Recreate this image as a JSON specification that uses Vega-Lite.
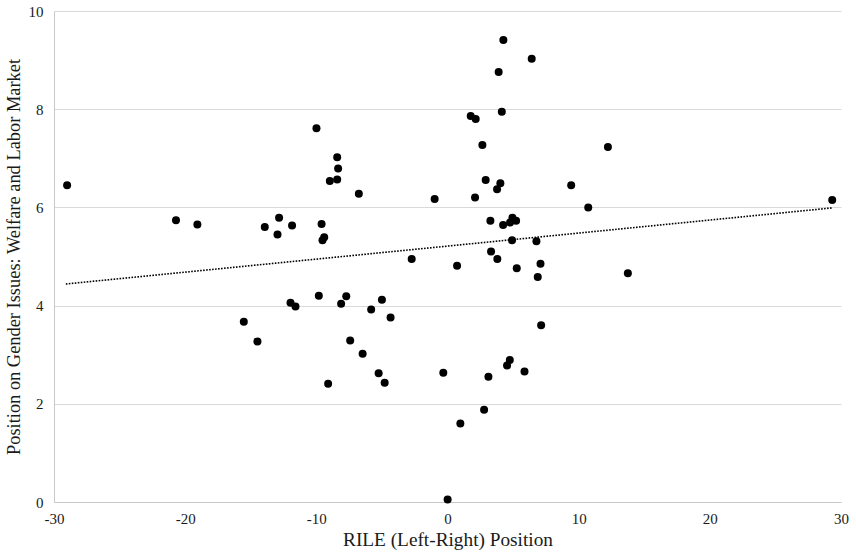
{
  "$schema": "https://vega.github.io/schema/vega-lite/v6.json",
  "autosize": {"type": "none"},
  "width": 787,
  "height": 491,
  "padding": {"left": 54, "top": 11, "right": 15, "bottom": 55},
  "background": "white",
  "config": {
    "view": {"stroke": null},
    "font": "Liberation Serif",
    "axis": {
      "titleFontWeight": "normal",
      "labelColor": "#1a1a1a",
      "titleColor": "#1a1a1a",
      "domainColor": "#c8c8c8",
      "gridColor": "#d9d9d9",
      "ticks": false,
      "labelFlush": false
    }
  },
  "datasets": {
    "parties": [
      {"rile": -29.0, "gender": 6.45},
      {"rile": -20.7, "gender": 5.74},
      {"rile": -19.07, "gender": 5.65},
      {"rile": -13.93, "gender": 5.60},
      {"rile": -12.84, "gender": 5.79},
      {"rile": -12.96, "gender": 5.45},
      {"rile": -11.85, "gender": 5.63},
      {"rile": -9.99, "gender": 7.61},
      {"rile": -8.41, "gender": 7.02},
      {"rile": -8.34, "gender": 6.79},
      {"rile": -8.97, "gender": 6.54},
      {"rile": -8.41, "gender": 6.57},
      {"rile": -6.76, "gender": 6.28},
      {"rile": -0.98, "gender": 6.17},
      {"rile": 2.10, "gender": 6.20},
      {"rile": 2.91, "gender": 6.56},
      {"rile": 2.66, "gender": 7.27},
      {"rile": 1.77, "gender": 7.86},
      {"rile": 2.15, "gender": 7.80},
      {"rile": 4.14, "gender": 7.95},
      {"rile": 3.90, "gender": 8.76},
      {"rile": 4.26, "gender": 9.41},
      {"rile": 6.42, "gender": 9.03},
      {"rile": 4.03, "gender": 6.49},
      {"rile": 3.78, "gender": 6.37},
      {"rile": 9.43, "gender": 6.45},
      {"rile": -9.60, "gender": 5.66},
      {"rile": -9.53, "gender": 5.33},
      {"rile": -9.40, "gender": 5.39},
      {"rile": -2.73, "gender": 4.95},
      {"rile": 0.73, "gender": 4.81},
      {"rile": 3.27, "gender": 5.73},
      {"rile": 4.24, "gender": 5.64},
      {"rile": 4.95, "gender": 5.79},
      {"rile": 4.77, "gender": 5.69},
      {"rile": 5.23, "gender": 5.73},
      {"rile": 4.92, "gender": 5.33},
      {"rile": 6.78, "gender": 5.31},
      {"rile": 3.32, "gender": 5.10},
      {"rile": 3.80, "gender": 4.95},
      {"rile": 5.28, "gender": 4.76},
      {"rile": 7.09, "gender": 4.85},
      {"rile": 6.88, "gender": 4.58},
      {"rile": 12.23, "gender": 7.23},
      {"rile": 10.73, "gender": 6.00},
      {"rile": 29.33, "gender": 6.15},
      {"rile": 13.75, "gender": 4.66},
      {"rile": -15.53, "gender": 3.67},
      {"rile": -14.49, "gender": 3.27},
      {"rile": -11.97, "gender": 4.06},
      {"rile": -11.59, "gender": 3.98},
      {"rile": -9.81, "gender": 4.20},
      {"rile": -8.11, "gender": 4.04},
      {"rile": -7.72, "gender": 4.19},
      {"rile": -5.82, "gender": 3.92},
      {"rile": -5.00, "gender": 4.12},
      {"rile": -4.34, "gender": 3.76},
      {"rile": -7.42, "gender": 3.29},
      {"rile": -6.47, "gender": 3.02},
      {"rile": -5.25, "gender": 2.62},
      {"rile": -4.79, "gender": 2.43},
      {"rile": -9.10, "gender": 2.41},
      {"rile": -0.32, "gender": 2.63},
      {"rile": 0.01, "gender": 0.05},
      {"rile": 0.98, "gender": 1.60},
      {"rile": 2.79, "gender": 1.88},
      {"rile": 3.12, "gender": 2.55},
      {"rile": 4.54, "gender": 2.78},
      {"rile": 4.75, "gender": 2.89},
      {"rile": 5.87, "gender": 2.66},
      {"rile": 7.14, "gender": 3.60}
    ],
    "trend": [
      {"rile": -29.1, "gender": 4.44},
      {"rile": 29.33, "gender": 5.99}
    ]
  },
  "encoding": {
    "x": {
      "field": "rile", "type": "quantitative",
      "scale": {"domain": [-30, 30], "nice": false, "zero": false},
      "axis": {"values": [-30, -20, -10, 0, 10, 20, 30], "grid": false, "title": "RILE (Left-Right) Position", "titleFont": "Liberation Serif", "titleFontSize": 19.3, "labelFont": "Liberation Serif", "labelFontSize": 15, "labelExpr": "'' + datum.value", "labelPadding": 9, "titlePadding": 4}
    },
    "y": {
      "field": "gender", "type": "quantitative",
      "scale": {"domain": [0, 10], "nice": false},
      "axis": {"values": [0, 2, 4, 6, 8, 10], "grid": true, "title": "Position on Gender Issues: Welfare and Labor Market", "titleFont": "Liberation Serif", "titleFontSize": 18.4, "labelFont": "Liberation Serif", "labelFontSize": 15, "labelExpr": "'' + datum.value", "labelPadding": 11, "titlePadding": 5}
    }
  },
  "layer": [
    {
      "data": {"name": "parties"},
      "mark": {"type": "circle", "size": 64, "color": "black", "opacity": 1}
    },
    {
      "data": {"name": "trend"},
      "mark": {"type": "line", "color": "black", "strokeWidth": 1.6, "strokeDash": [1.6, 1.4]}
    }
  ]
}
